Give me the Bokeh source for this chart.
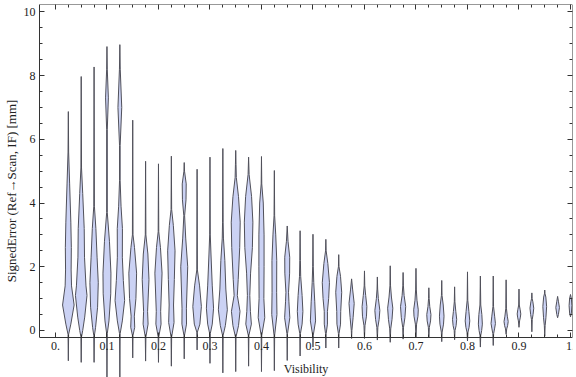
import numpy as np
from bokeh.plotting import figure
from bokeh.models import ColumnDataSource, LinearAxis, FixedTicker, Range1d
from bokeh.embed import file_html
from bokeh.resources import INLINE

# ---------------- data ----------------
visibility = [0.025, 0.05, 0.075, 0.1, 0.125, 0.15, 0.175, 0.2, 0.225, 0.25,
              0.275, 0.3, 0.325, 0.35, 0.375, 0.4, 0.425, 0.45, 0.475, 0.5,
              0.525, 0.55, 0.575, 0.6, 0.625, 0.65, 0.675, 0.7, 0.725, 0.75,
              0.775, 0.8, 0.825, 0.85, 0.875, 0.9, 0.925, 0.95, 0.975, 1.0]

# density profile of each violin: error levels (mm) and relative density there
profile_y = [
    [-0.95, -0.12, 0.2, 0.8, 1.4, 1.9, 2.6, 3.4, 4.6, 5.6, 6.87],
    [-1.0, -0.2, 0.0, 0.42, 1.1, 1.4, 2.3, 3.2, 4.3, 5.1, 7.97],
    [-1.0, -0.16, 0.1, 0.73, 1.5, 2.3, 3.2, 3.9, 8.27],
    [-1.46, -0.1, 0.3, 1.15, 1.8, 2.8, 3.7, 6.3, 7.3, 8.2, 8.91],
    [-1.46, -0.1, 0.3, 0.94, 1.57, 2.3, 3.2, 3.9, 4.7, 5.8, 7.0, 8.2, 8.97],
    [-0.86, -0.15, 0.1, 0.45, 1.0, 1.8, 2.6, 3.0, 6.6],
    [-0.96, -0.2, 0.2, 0.6, 1.6, 2.4, 3.0, 5.31],
    [-1.0, -0.2, 0.2, 0.6, 1.8, 2.6, 3.1, 5.23],
    [-1.12, -0.2, 0.25, 0.8, 1.6, 2.5, 3.3, 3.8, 5.47],
    [-0.89, -0.15, 0.2, 0.7, 2.0, 2.9, 3.6, 4.1, 4.6, 5.0, 5.27],
    [-0.61, -0.05, 0.2, 0.75, 1.4, 1.9, 5.06],
    [-1.03, -0.1, 0.2, 0.7, 1.4, 2.4, 3.0, 5.44],
    [-1.33, -0.15, 0.15, 0.65, 1.3, 2.2, 2.9, 3.4, 5.71],
    [-1.29, -0.2, 0.15, 0.6, 1.1, 1.6, 2.6, 3.4, 4.2, 4.8, 5.2, 5.65],
    [-1.12, -0.15, 0.2, 0.6, 1.1, 1.8, 2.6, 3.4, 4.2, 4.9, 5.44],
    [-1.29, -0.15, 0.4, 1.0, 2.0, 3.0, 4.0, 4.6, 5.46],
    [-1.26, -0.15, 0.5, 1.2, 2.2, 3.0, 3.6, 5.02],
    [-0.94, -0.1, 0.4, 0.9, 1.2, 1.8, 2.3, 2.8, 3.28],
    [-0.8, -0.1, 0.2, 0.6, 1.1, 1.7, 2.2, 3.13],
    [-0.52, -0.15, 0.3, 0.9, 1.5, 2.0, 3.02],
    [-0.55, -0.1, 0.2, 0.6, 1.0, 1.5, 2.1, 2.5, 2.86],
    [-0.55, -0.1, 0.2, 0.6, 1.2, 1.7, 2.0, 2.38],
    [-0.25, 0.0, 0.4, 0.85, 1.3, 1.62],
    [-0.25, 0.15, 0.45, 0.75, 1.1, 1.4, 1.87],
    [-0.3, 0.1, 0.35, 0.63, 1.0, 1.3, 1.68],
    [-0.37, 0.05, 0.35, 0.7, 1.05, 1.4, 2.03],
    [-0.27, 0.1, 0.4, 0.75, 1.1, 1.4, 1.82],
    [-0.21, 0.2, 0.45, 0.65, 0.95, 1.3, 1.95],
    [-0.23, 0.1, 0.3, 0.5, 0.75, 1.0, 1.34],
    [-0.35, -0.05, 0.2, 0.45, 0.8, 1.1, 1.57],
    [-0.29, 0.0, 0.15, 0.35, 0.6, 0.9, 1.37],
    [-0.33, -0.05, 0.1, 0.3, 0.6, 0.95, 1.84],
    [-0.52, -0.15, 0.0, 0.2, 0.5, 0.8, 1.71],
    [-0.47, -0.1, 0.05, 0.22, 0.45, 0.75, 1.71],
    [-0.12, 0.05, 0.15, 0.28, 0.45, 0.7, 1.59],
    [0.1, 0.3, 0.42, 0.52, 0.65, 0.8, 1.3],
    [-0.04, 0.35, 0.5, 0.7, 0.9, 1.0, 1.18],
    [-0.18, 0.15, 0.4, 0.75, 1.05, 1.15, 1.27],
    [0.4, 0.5, 0.72, 0.9, 1.07],
    [0.43, 0.55, 0.78, 1.0, 1.13],
]
profile_d = [
    [0, 0.3, 2.5, 5.8, 3.2, 2.8, 3.0, 2.5, 1.3, 0.3, 0],
    [0, 0.3, 1.5, 3.5, 5.8, 4.8, 3.3, 3.0, 1.5, 0.3, 0],
    [0, 0.3, 1.5, 3.5, 4.2, 3.0, 1.8, 0.3, 0],
    [0, 0.3, 2.0, 3.8, 4.0, 2.5, 0.3, 0.3, 1.4, 0.3, 0],
    [0, 0.3, 2.5, 4.8, 3.5, 2.5, 2.6, 1.2, 0.3, 0.3, 1.9, 0.4, 0],
    [0, 0.3, 2.0, 1.6, 3.2, 3.9, 1.8, 0.3, 0],
    [0, 0.3, 2.5, 2.0, 3.4, 2.3, 0.3, 0],
    [0, 0.3, 2.6, 2.2, 3.6, 2.0, 0.3, 0],
    [0, 0.3, 2.7, 2.2, 3.0, 3.7, 2.0, 0.3, 0],
    [0, 0.3, 2.3, 2.2, 3.5, 1.5, 0.4, 1.8, 2.0, 0.3, 0],
    [0, 0.3, 2.8, 4.3, 2.5, 0.3, 0],
    [0, 0.3, 2.3, 3.6, 2.3, 1.0, 0.3, 0],
    [0, 0.3, 2.5, 4.5, 3.0, 2.0, 0.6, 0.3, 0],
    [0, 0.3, 2.8, 4.3, 1.6, 2.5, 4.0, 4.5, 2.8, 0.6, 0.3, 0],
    [0, 0.3, 2.8, 1.8, 1.2, 2.0, 3.8, 4.3, 3.0, 0.5, 0],
    [0, 0.3, 3.3, 2.4, 2.6, 2.6, 1.8, 0.3, 0],
    [0, 0.3, 2.6, 2.3, 2.4, 1.4, 0.3, 0],
    [0, 0.3, 2.6, 1.7, 1.3, 2.4, 2.5, 0.8, 0],
    [0, 0.3, 2.0, 2.8, 2.0, 0.6, 0.3, 0],
    [0, 0.3, 2.6, 1.8, 0.8, 0.3, 0],
    [0, 0.3, 1.6, 1.6, 2.8, 3.6, 2.0, 0.3, 0],
    [0, 0.3, 1.8, 2.0, 3.0, 1.8, 0.3, 0],
    [0, 0.3, 1.5, 2.6, 1.0, 0],
    [0, 0.5, 2.0, 2.4, 1.2, 0.3, 0],
    [0, 0.5, 1.8, 2.5, 1.0, 0.3, 0],
    [0, 0.5, 1.8, 2.6, 1.2, 0.3, 0],
    [0, 0.4, 1.8, 2.6, 1.0, 0.3, 0],
    [0, 0.6, 2.0, 2.3, 1.0, 0.3, 0],
    [0, 0.5, 1.7, 2.1, 0.9, 0.3, 0],
    [0, 0.4, 1.8, 2.3, 1.5, 0.3, 0],
    [0, 0.4, 1.5, 2.1, 1.2, 0.3, 0],
    [0, 0.5, 1.6, 2.3, 1.4, 0.3, 0],
    [0, 0.4, 1.3, 2.0, 1.5, 0.4, 0],
    [0, 0.4, 1.3, 2.2, 1.4, 0.3, 0],
    [0, 0.6, 1.5, 2.1, 1.2, 0.3, 0],
    [0, 0.6, 1.4, 1.8, 1.2, 0.3, 0],
    [0, 0.4, 1.2, 1.9, 1.0, 0.3, 0],
    [0, 0.4, 1.2, 1.9, 1.1, 0.3, 0],
    [0, 0.8, 1.8, 0.9, 0],
    [0, 0.9, 1.4, 0.9, 0],
]

x_ticks = [0.0, 0.1, 0.2, 0.3, 0.4, 0.5, 0.6, 0.7, 0.8, 0.9, 1.0]
x_tick_labels = ["0.", "0.1", "0.2", "0.3", "0.4", "0.5", "0.6", "0.7", "0.8", "0.9", "1."]
x_minor = [0.0, 0.025, 0.05, 0.075, 0.1, 0.125, 0.15, 0.175, 0.2, 0.225, 0.25, 0.275,
           0.3, 0.325, 0.35, 0.375, 0.4, 0.425, 0.45, 0.475, 0.5, 0.525, 0.55, 0.575,
           0.6, 0.625, 0.65, 0.675, 0.7, 0.725, 0.75, 0.775, 0.8, 0.825, 0.85, 0.875,
           0.9, 0.925, 0.95, 0.975, 1.0]
y_ticks = [0, 2, 4, 6, 8, 10]
y_minor = [0, 0.5, 1, 1.5, 2, 2.5, 3, 3.5, 4, 4.5, 5, 5.5, 6, 6.5, 7, 7.5, 8, 8.5, 9, 9.5, 10]

x_label = "Visibility"
y_label = "SignedError (Ref\u2192Scan, IF) [mm]"

# ---------------- plot ----------------
X0, X1 = -0.031, 1.0039
Y0, Y1 = -1.475, 10.23
AXIS_Y = -0.22
width_per_density = 1.0 / 517.0   # one density unit -> one pixel of half width

p = figure(width=576, height=377, x_range=Range1d(X0, X1), y_range=Range1d(Y0, Y1),
           x_axis_location=None, y_axis_location=None,
           toolbar_location=None, output_backend="svg",
           min_border_left=37, min_border_right=4, min_border_top=4, min_border_bottom=0)
p.outline_line_color = None
p.xgrid.visible = False
p.ygrid.visible = False
p.background_fill_color = "white"
p.border_fill_color = "white"

xs, ys = [], []
for v, py, pd in zip(visibility, profile_y, profile_d):
    py = np.asarray(py, dtype=float)
    w = np.asarray(pd, dtype=float) * width_per_density
    xs.append(list(v + w) + list((v - w)[::-1]))
    ys.append(list(py) + list(py[::-1]))
src = ColumnDataSource(dict(xs=xs, ys=ys))
p.patches("xs", "ys", source=src, fill_color="#cbd2f4", line_color="#50505a",
          line_width=1, line_join="round")

FONT = "Liberation Serif"
LINE = "#333333"


def style(ax, labels=True):
    ax.axis_line_color = LINE
    ax.major_tick_line_color = LINE
    ax.minor_tick_line_color = LINE
    ax.major_tick_in = 5
    ax.major_tick_out = 0
    ax.minor_tick_in = 3
    ax.minor_tick_out = 0
    ax.major_label_text_font = FONT
    ax.major_label_text_font_size = "12px"
    ax.major_label_text_color = "#222222" if labels else None
    ax.axis_label_text_font = FONT
    ax.axis_label_text_font_style = "normal"
    ax.axis_label_text_font_size = "12px"
    ax.axis_label_text_color = "#222222"


xticker = FixedTicker(ticks=x_ticks, minor_ticks=x_minor)
yticker = FixedTicker(ticks=y_ticks, minor_ticks=y_minor)

bottom = LinearAxis(ticker=xticker, fixed_location=AXIS_Y, axis_label=x_label,
                    major_label_overrides=dict(zip(x_ticks, x_tick_labels)))
style(bottom)
bottom.major_label_standoff = 4
bottom.axis_label_standoff = 9
p.add_layout(bottom, "below")

top = LinearAxis(ticker=xticker, fixed_location=Y1)
style(top, labels=False)
p.add_layout(top, "above")

left = LinearAxis(ticker=yticker, bounds=(AXIS_Y, Y1), axis_label=y_label)
style(left)
left.axis_label_text_font_size = "13px"
left.major_label_standoff = 4
left.axis_label_standoff = 2
p.add_layout(left, "left")

right = LinearAxis(ticker=yticker, fixed_location=X1, bounds=(AXIS_Y, Y1))
style(right, labels=False)
p.add_layout(right, "right")

open("out.html", "w").write(file_html(p, INLINE))
